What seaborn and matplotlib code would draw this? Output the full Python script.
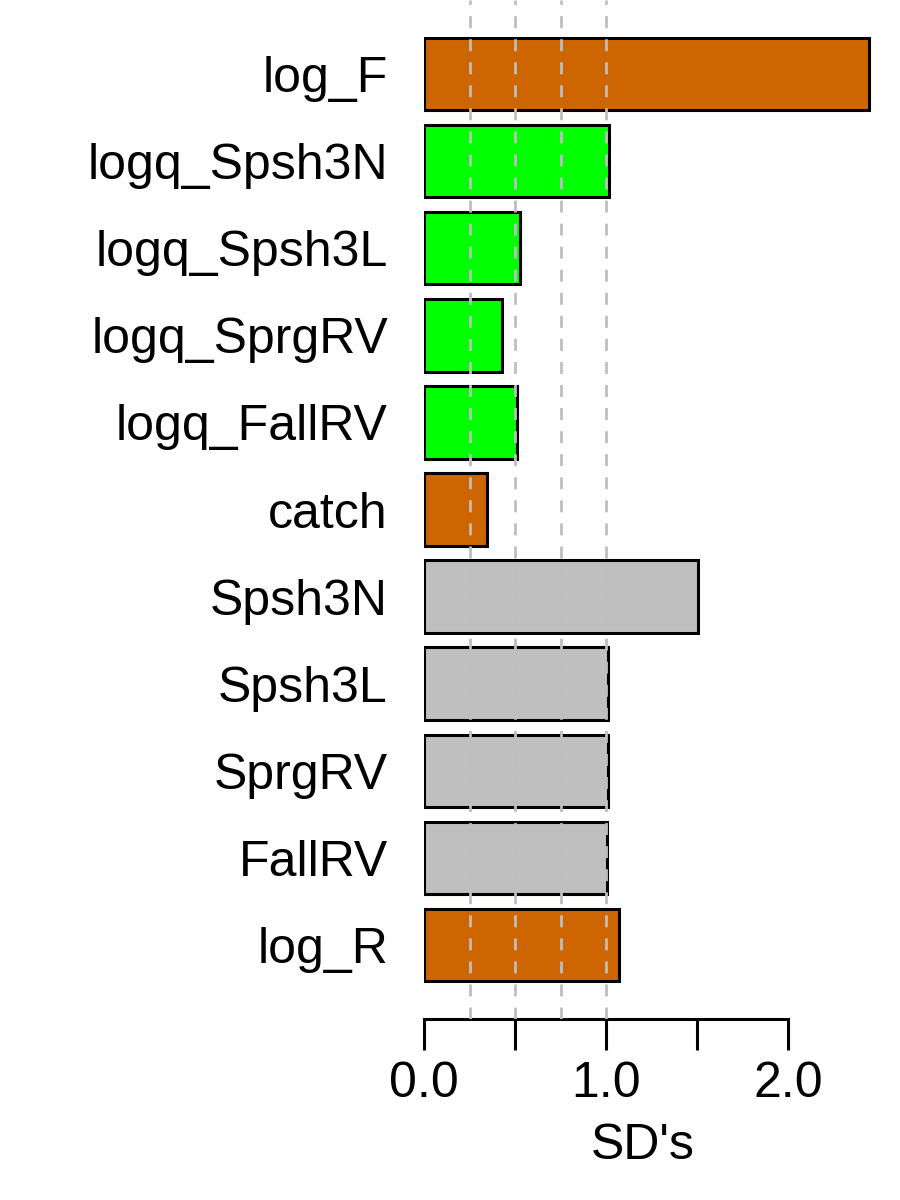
import matplotlib
matplotlib.use("Agg")
import matplotlib.pyplot as plt
import seaborn as sns
import pandas as pd

# data, top to bottom as shown
params = ["log_F", "logq_Spsh3N", "logq_Spsh3L", "logq_SprgRV", "logq_FallRV",
          "catch", "Spsh3N", "Spsh3L", "SprgRV", "FallRV", "log_R"]
sds = [2.445, 1.016, 0.527, 0.429, 0.511, 0.346, 1.505, 1.011, 1.011, 1.005, 1.071]
bar_cols = ["#CD6600", "#00FF00", "#00FF00", "#00FF00", "#00FF00",
            "#CD6600", "#BFBFBF", "#BFBFBF", "#BFBFBF", "#BFBFBF", "#CD6600"]
ref_lines = [0.25, 0.5, 0.75, 1.0]
xticks = [0, 0.5, 1.0, 1.5, 2.0]
xticklabels = ["0.0", "", "1.0", "", "2.0"]

df = pd.DataFrame({"param": params, "sd": sds})

sns.set_style("white")
plt.rcParams["font.family"] = ["Liberation Sans", "DejaVu Sans"]
plt.rcParams["text.color"] = "black"
plt.rcParams["axes.labelcolor"] = "black"
plt.rcParams["xtick.color"] = "black"
plt.rcParams["ytick.color"] = "black"

fig = plt.figure(figsize=(9, 12), dpi=100)
ax = fig.add_axes([424 / 900, 1 - 1019 / 1200, 455 / 900, 1019 / 1200])

sns.barplot(data=df, x="sd", y="param", hue="param", palette=bar_cols,
            order=params, hue_order=params, legend=False, width=0.833,
            edgecolor="black", linewidth=2.2, saturation=1, orient="h", ax=ax)

# dashed reference lines over the bars
for v in ref_lines:
    ax.axvline(v, color="#BEBEBE", lw=2, dashes=(4.3, 4.0), zorder=5)

ax.set_xlim(0, 2.5)
ax.set_ylim(10.85, -0.85)

for s in ["top", "right", "left"]:
    ax.spines[s].set_visible(False)
ax.spines["bottom"].set_bounds(0, 2.0)
ax.spines["bottom"].set_linewidth(2.2)
ax.spines["bottom"].set_color("black")

ax.set_xticks(xticks)
ax.set_xticklabels(xticklabels)
ax.tick_params(axis="x", bottom=True, length=22, width=2.2, pad=8,
               labelsize=36, colors="black")
ax.tick_params(axis="y", left=False, length=0, pad=26, labelsize=36,
               colors="black")

ax.set_xlabel("SD's", fontsize=36, color="black")
ax.xaxis.set_label_coords(0.481, -0.102)
ax.set_ylabel("")

fig.savefig("out.png", dpi=100)
